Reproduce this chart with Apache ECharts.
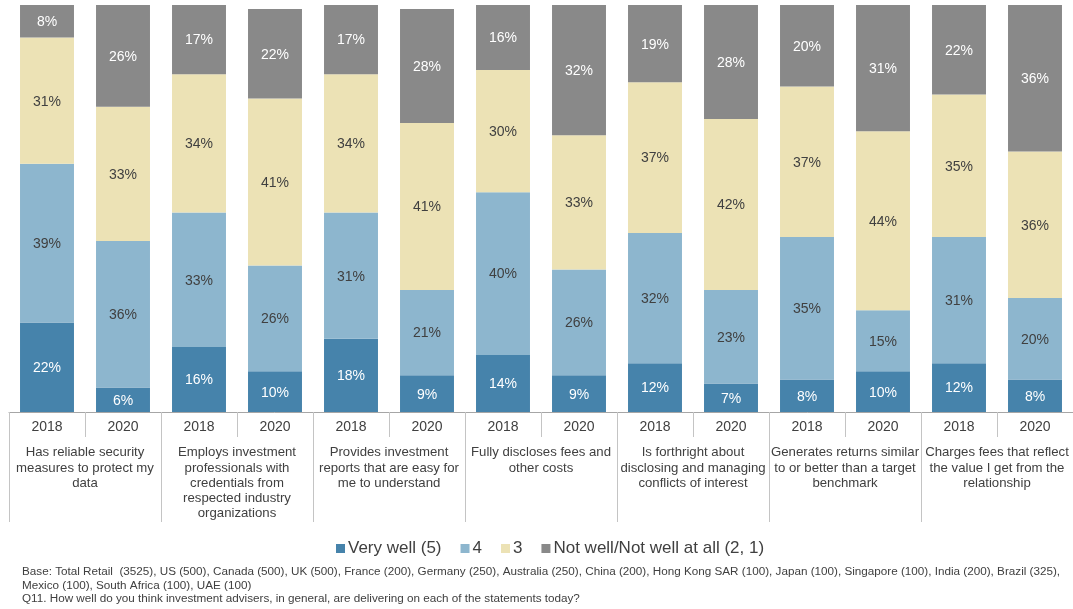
<!DOCTYPE html>
<html>
<head>
<meta charset="utf-8">
<script src="https://cdn.jsdelivr.net/npm/echarts@6/dist/echarts.min.js"></script>
<style>
  html, body { margin: 0; padding: 0; background: #ffffff; }
  #chart { width: 1073px; height: 609px; }
</style>
</head>
<body>
<div id="chart"></div>
<script>
// Survey statements (one group of two bars each)
const statements = [
  'Has reliable security\nmeasures to protect my\ndata',
  'Employs investment\nprofessionals with\ncredentials from\nrespected industry\norganizations',
  'Provides investment\nreports that are easy for\nme to understand',
  'Fully discloses fees and\nother costs',
  'Is forthright about\ndisclosing and managing\nconflicts of interest',
  'Generates returns similar\nto or better than a target\nbenchmark',
  'Charges fees that reflect\nthe value I get from the\nrelationship'
];
const years = ['2018', '2020'];

// Share of respondents (%), bars in order: statement 1 2018, statement 1 2020, ...
const veryWell = [22, 6, 16, 10, 18, 9, 14, 9, 12, 7, 8, 10, 12, 8];
const rating4  = [39, 36, 33, 26, 31, 21, 40, 26, 32, 23, 35, 15, 31, 20];
const rating3  = [31, 33, 34, 41, 34, 41, 30, 33, 37, 42, 37, 44, 35, 36];
const notWell  = [8, 26, 17, 22, 17, 28, 16, 32, 19, 28, 20, 31, 22, 36];

const seriesNames = ['Very well (5)', '4', '3', 'Not well/Not well at all (2, 1)'];
const seriesColors = ['#4683ab', '#8db6ce', '#ece2b5', '#898989'];
const labelColors = ['#ffffff', '#404040', '#404040', '#ffffff'];
const seriesValues = [veryWell, rating4, rating3, notWell];

const footnotes = [
  'Base: Total Retail  (3525), US (500), Canada (500), UK (500), France (200), Germany (250), Australia (250), China (200), Hong Kong SAR (100), Japan (100), Singapore (100), India (200), Brazil (325),',
  'Mexico (100), South Africa (100), UAE (100)',
  'Q11. How well do you think investment advisers, in general, are delivering on each of the statements today?'
];

const yearCategories = [];
statements.forEach(() => years.forEach(y => yearCategories.push(y)));

const FONT = '"Liberation Sans", Arial, sans-serif';

const chart = echarts.init(document.getElementById('chart'), null, { renderer: 'canvas' });

chart.setOption({
  backgroundColor: '#ffffff',
  animation: false,
  textStyle: { fontFamily: FONT },
  grid: { left: 9, top: 5, right: -4, height: 407, containLabel: false },
  legend: {
    left: 331,
    top: 535,
    icon: 'rect',
    itemWidth: 9,
    itemHeight: 9,
    itemGap: 19,
    data: seriesNames,
    textStyle: { fontSize: 17, color: '#404040', fontFamily: FONT, padding: [0, 0, 0, -2] }
  },
  xAxis: [
    {
      type: 'category',
      data: yearCategories,
      position: 'bottom',
      axisLine: { show: true, lineStyle: { color: '#a6a6a6', width: 1 } },
      axisTick: { show: true, length: 25, lineStyle: { color: '#c4c4c4' } },
      axisLabel: { fontSize: 14, color: '#404040', margin: 8, fontFamily: FONT },
      splitLine: { show: false }
    },
    {
      type: 'category',
      data: statements,
      position: 'bottom',
      axisLine: { show: false },
      axisTick: { show: true, length: 110, lineStyle: { color: '#c4c4c4' } },
      axisLabel: {
        fontSize: 13.2,
        color: '#404040',
        margin: 33,
        lineHeight: 15.3,
        align: 'center',
        verticalAlign: 'top',
        interval: 0,
        fontFamily: FONT
      },
      splitLine: { show: false }
    }
  ],
  yAxis: {
    type: 'value',
    min: 0,
    max: 100,
    show: false,
    splitLine: { show: false }
  },
  series: seriesValues.map((vals, i) => ({
    name: seriesNames[i],
    type: 'bar',
    stack: 'total',
    xAxisIndex: 0,
    barWidth: '71%',
    data: vals,
    itemStyle: { color: seriesColors[i] },
    label: {
      show: true,
      position: 'inside',
      formatter: '{c}%',
      fontSize: 14,
      color: labelColors[i],
      fontFamily: FONT,
      offset: [0, 1]
    }
  })),
  graphic: footnotes.map((t, i) => ({
    type: 'text',
    left: 22,
    top: 566 + i * 13.5,
    style: { text: t, fontSize: 11.7, fill: '#404040', font: '11.7px ' + FONT }
  }))
});
</script>
</body>
</html>
